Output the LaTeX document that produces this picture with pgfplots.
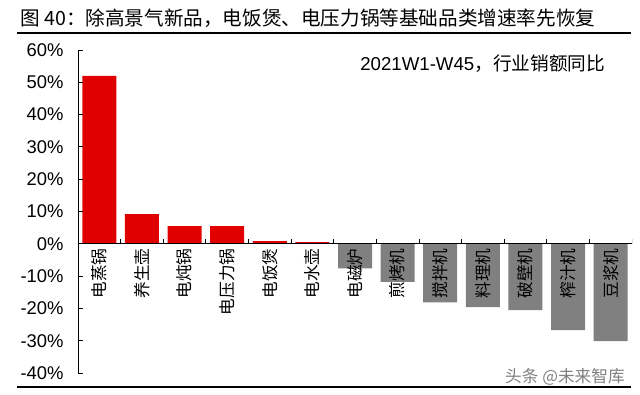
\documentclass[border=0pt]{standalone}
\usepackage{pgfplots}
\pgfplotsset{compat=1.18}
\usepackage{fontspec}
\setmainfont{Liberation Sans}
\newfontfamily\cjk{Noto Sans CJK SC}
\definecolor{barred}{RGB}{224,0,0}
\definecolor{bargray}{RGB}{128,128,128}
\begin{document}
\begin{tikzpicture}
\path[use as bounding box] (0,0) rectangle (480pt,-296.25pt);
\begin{axis}[
  at={(58.5pt,-279.75pt)}, anchor=south west,
  scale only axis, width=415.5pt, height=242.25pt,
  xmin=-0.5, xmax=12.5, ymin=-40, ymax=60,
  axis on top,
  axis x line=middle, axis y line=left,
  axis line style={-, black, line width=0.6pt},
  hide obscured x ticks=false, hide obscured y ticks=false,
  ytick={-40,-30,...,60},
  yticklabel={\pgfmathprintnumber{\tick}\%},
  /pgf/number format/assume math mode=true,
  yticklabel style={font=\fontsize{13.8}{15}\selectfont, xshift=-7.3pt},
  y tick style={black, line width=0.6pt},
  tick align=inside, major tick length=3.75pt,
  xtick={0,...,12},
  xticklabels={电蒸锅,养生壶,电炖锅,电压力锅,电饭煲,电水壶,电磁炉,煎烤机,搅拌机,料理机,破壁机,榨汁机,豆浆机},
  xticklabel style={rotate=90, anchor=east, font=\cjk\fontsize{12.5}{14}\selectfont},
  x tick style={draw=none},
]
\addplot[ybar, bar width=25.5pt, bar shift=0pt, fill=barred, draw=none]
  coordinates {(0,52.0) (1,9.2) (2,5.5) (3,5.5) (4,0.8) (5,0.5)};
\addplot[ybar, bar width=25.5pt, bar shift=0pt, fill=bargray, draw=none]
  coordinates {(6,-7.6) (7,-11.8) (8,-18.1) (9,-19.6) (10,-20.5) (11,-26.7) (12,-30.1)};
\pgfplotsinvokeforeach{-0.5,0.5,1.5,2.5,3.5,4.5,5.5,6.5,7.5,8.5,9.5,10.5,11.5,12.5}{
  \draw[black, line width=0.6pt] (axis cs:#1,0) -- ++(0pt,3.5pt);
}
\end{axis}
\begin{scope}[x=0.75pt,y=-0.75pt]
\draw[line width=1.1pt] (17,33) -- (631,33);
\draw[line width=1.1pt] (17,387) -- (631,387);
\node[anchor=west, inner sep=0] at (20,18) {\cjk\fontsize{14.7}{16}\selectfont 图 40：除高景气新品，电饭煲、电压力锅等基础品类增速率先恢复};
\node[anchor=west, inner sep=0] at (360,64) {\fontsize{14}{16}\selectfont 2021W1-W45{\cjk ，行业销额同比}};
\node[anchor=east, inner sep=0, text=gray] at (625,377) {\cjk\fontsize{12.5}{14}\selectfont 头条 @未来智库};
\end{scope}
\end{tikzpicture}
\end{document}
